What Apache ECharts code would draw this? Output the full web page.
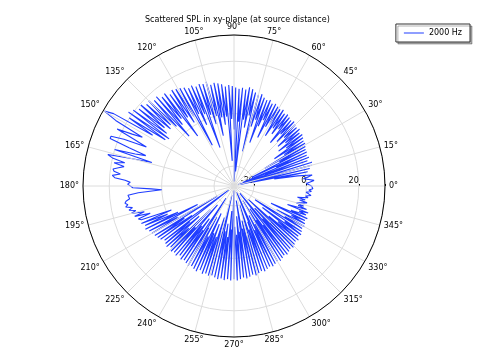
<!DOCTYPE html>
<html>
<head>
<meta charset="utf-8">
<script src="https://cdn.jsdelivr.net/npm/echarts@6/dist/echarts.min.js"></script>
<style>
  html, body { margin: 0; padding: 0; background: #fff; }
  #chart { width: 482px; height: 352px; }
</style>
</head>
<body>
<div id="chart"></div>
<script>
// scattered SPL (dB) sampled every 1 degree, 0..359
const angleStep = 1;
const spl = [
  2, 1, 0, 1.5, 3, 1, -1, 1, 2.5, -3, -12, 1, -20, 2, -25,
  3, -18, 3.5, -26, 2, -15, 3, -24, 2.5, -10, 3, -20, 3, -8, 3.5,
  -14, 4, -5, 4, -9, 4.5, -3, 5, -6, 4.5, -2, 5.5, -5, 5, -1,
  5.5, -4, 6, -1, 5.5, -6, 6, 0, 6.5, -3, 6, -1, 7, -5, 6.5,
  0, 7, -2, 7.5, -7, 7, 0, 8, -3, 7.5, -10, 8, -1, 9, -4,
  8.5, -14, 9, 0, 10, -5, 10.5, -2, 9.5, -22, 10, -3, 9.5, -26, 10,
  -6, 10.5, -2, 11, -18, 10.5, -1, 11.5, -4, 12, -1, 12.5, -8, 12, 0,
  13.5, -3, 13, 1, 13.5, -12, 13, 2, 14, -2, 13.5, 3, 14.5, -10, 15,
  3, 15.5, 1, 16, 4, 15, -4, 16.5, 5, 16, 3, 17.5, -2, 17, 4,
  18.5, 6, 18, 5, 19.5, 7, 19, 5, 20.5, 3, 21.5, 4, 20, 9, 26,
  29.5, 24, 12, 16, 22, 14, 9, 18, 23, 23, 15, 8, 12, 20, 5,
  13, 22, 20, 15, 19, 15, 17, 19, 18.5, 16, 19, 18, 14, 12, 13,
  13, 11, 4, 0, 9, 13, 13.5, 12.5, 14, 14.5, 13.5, 14.5, 12, 13.5, 11,
  13, 8, 12, 6, 11, 10, -2, 10.5, 0, 9.5, -4, 10, -12, 9, -3,
  8.5, -20, 8, -5, 7.5, -8, 7, -25, 6, -6, 6.5, -10, 7, -4, 6,
  -15, 7, -6, 6.5, -18, 7, -8, 6, -12, 7, -7, 6.5, -22, 7, -9,
  7.5, -14, 7, -6, 7.5, -16, 8, -8, 7, -12, 8, -7, 7.5, -15, 8,
  -9, 7.5, -24, 8, -10, 8.5, -13, 8, -8, 8.5, -18, 8, -11, 8.5, -26,
  8, -12, 8.5, -9, 8, -16, 7.5, -10, 8, -22, 7.5, -11, 7, -14, 7.5,
  -8, 7, -20, 6.5, -10, 7, -13, 6.5, -25, 6, -9, 6.5, -15, 6, -11,
  5.5, -21, 6, -12, 5.5, -17, 5, -9, 5.5, -24, 5, -11, 4.5, -16, 5,
  -8, 4.5, -20, 4, -10, 4.5, -6, 3.5, -14, 4, -4, 3.5, -18, 3, -5,
  3.5, -9, 3, -3, 2.5, -12, 3, -4, 2, -1, 2.5, -6, 1.5, -2, 0,
  -3, -1, 1, -2, 0, -3, 1, 0, 2, 1, 0, 2, 1, 2.5, 3
];
const radiusMin = -27.6;
const radiusMax = 30;
const radiusLabels = [-20, 0, 20];

// close the loop at 360
const curve = spl.map((v, i) => [v, i * angleStep]);
curve.push([spl[0], 360]);

const chart = echarts.init(document.getElementById('chart'));
const font = 'DejaVu Sans';
const blue = '#1f3dff';

chart.setOption({
  animation: false,
  title: {
    text: 'Scattered SPL in xy-plane (at source distance)',
    left: 140,
    top: 11,
    textStyle: { fontSize: 8, fontWeight: 'normal', color: '#000', fontFamily: font }
  },
  legend: {
    data: ['2000 Hz'],
    right: 12,
    top: 24,
    icon: 'rect',
    backgroundColor: '#fff',
    borderColor: '#333',
    borderWidth: 1,
    padding: [5, 8, 5, 8],
    shadowColor: 'rgba(0,0,0,0.3)',
    shadowBlur: 0,
    shadowOffsetX: 2,
    shadowOffsetY: 2,
    itemWidth: 20,
    itemHeight: 1,
    itemGap: 4,
    itemStyle: { color: blue },
    textStyle: { fontSize: 8, color: '#000', fontFamily: font }
  },
  polar: { center: [234, 186], radius: 151 },
  angleAxis: {
    type: 'value',
    min: 0,
    max: 360,
    interval: 15,
    startAngle: 0,
    clockwise: false,
    z: 5,
    axisLine: { lineStyle: { color: '#000', width: 1 } },
    axisTick: { show: false },
    axisLabel: {
      margin: 4,
      fontSize: 8,
      color: '#000',
      fontFamily: font,
      formatter: v => (v === 360 ? '' : v + '°')
    },
    splitLine: { lineStyle: { color: '#dcdcdc', width: 1 } }
  },
  radiusAxis: {
    min: radiusMin,
    max: radiusMax,
    splitNumber: 3,
    axisLine: { show: false },
    axisTick: { show: true, length: 2, lineStyle: { color: '#000' } },
    axisLabel: {
      margin: 1,
      fontSize: 8,
      color: '#000',
      fontFamily: font,
      align: 'right',
      verticalAlign: 'bottom',
      formatter: v => (radiusLabels.includes(Math.round(v * 10) / 10) ? String(v) : '')
    },
    splitLine: { lineStyle: { color: '#dcdcdc', width: 1 } }
  },
  series: [{
    name: '2000 Hz',
    type: 'line',
    coordinateSystem: 'polar',
    data: curve,
    symbol: 'none',
    lineStyle: { color: blue, width: 1.1 },
    itemStyle: { color: blue }
  }]
});
</script>
</body>
</html>
